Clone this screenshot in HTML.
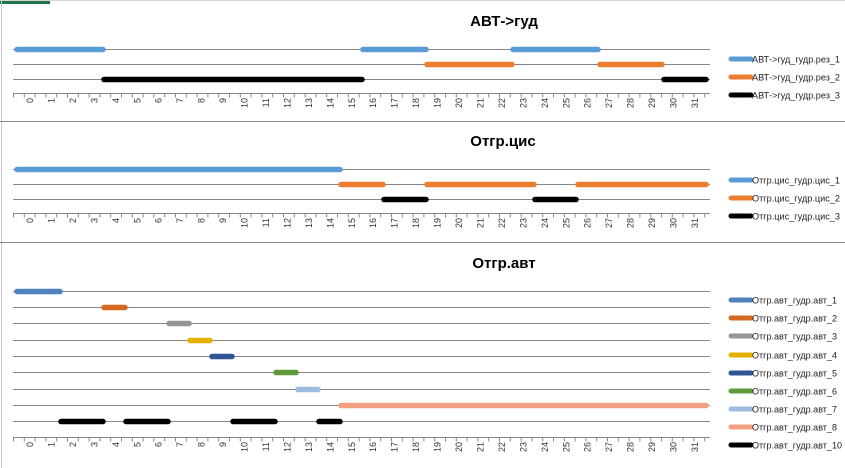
<!DOCTYPE html>
<html><head><meta charset="utf-8"><style>
html,body{margin:0;padding:0;background:#fff}
svg{display:block}
text{font-family:"Liberation Sans",sans-serif}
.t{font-size:9px;fill:#333}
.lg{font-size:9.5px;fill:#222}
.ti{font-size:15px;font-weight:bold;fill:#000}
</style></head><body>
<svg width="845" height="468" viewBox="0 0 845 468" xmlns="http://www.w3.org/2000/svg">
<rect width="845" height="468" fill="#fff"/>
<rect x="0" y="0" width="50" height="4" fill="#217346"/>
<line x1="0" y1="0.5" x2="845" y2="0.5" stroke="#d4d4d4"/>
<line x1="1.5" y1="0" x2="1.5" y2="468" stroke="#c8c8c8"/>
<line x1="0" y1="121.5" x2="845" y2="121.5" stroke="#8a8a8a"/>
<line x1="0" y1="242.5" x2="845" y2="242.5" stroke="#8a8a8a"/>

<defs>
<g id="labels">
<text class="t" text-anchor="end" transform="translate(33,0) rotate(-90)">0</text>
<text class="t" text-anchor="end" transform="translate(54.5,0) rotate(-90)">1</text>
<text class="t" text-anchor="end" transform="translate(75.9,0) rotate(-90)">2</text>
<text class="t" text-anchor="end" transform="translate(97.4,0) rotate(-90)">3</text>
<text class="t" text-anchor="end" transform="translate(118.8,0) rotate(-90)">4</text>
<text class="t" text-anchor="end" transform="translate(140.3,0) rotate(-90)">5</text>
<text class="t" text-anchor="end" transform="translate(161.7,0) rotate(-90)">6</text>
<text class="t" text-anchor="end" transform="translate(183.2,0) rotate(-90)">7</text>
<text class="t" text-anchor="end" transform="translate(204.6,0) rotate(-90)">8</text>
<text class="t" text-anchor="end" transform="translate(226.1,0) rotate(-90)">9</text>
<text class="t" text-anchor="end" transform="translate(247.5,0) rotate(-90)">10</text>
<text class="t" text-anchor="end" transform="translate(269,0) rotate(-90)">11</text>
<text class="t" text-anchor="end" transform="translate(290.4,0) rotate(-90)">12</text>
<text class="t" text-anchor="end" transform="translate(311.9,0) rotate(-90)">13</text>
<text class="t" text-anchor="end" transform="translate(333.3,0) rotate(-90)">14</text>
<text class="t" text-anchor="end" transform="translate(354.8,0) rotate(-90)">15</text>
<text class="t" text-anchor="end" transform="translate(376.2,0) rotate(-90)">16</text>
<text class="t" text-anchor="end" transform="translate(397.7,0) rotate(-90)">17</text>
<text class="t" text-anchor="end" transform="translate(419.1,0) rotate(-90)">18</text>
<text class="t" text-anchor="end" transform="translate(440.6,0) rotate(-90)">19</text>
<text class="t" text-anchor="end" transform="translate(462,0) rotate(-90)">20</text>
<text class="t" text-anchor="end" transform="translate(483.5,0) rotate(-90)">21</text>
<text class="t" text-anchor="end" transform="translate(504.9,0) rotate(-90)">22</text>
<text class="t" text-anchor="end" transform="translate(526.4,0) rotate(-90)">23</text>
<text class="t" text-anchor="end" transform="translate(547.8,0) rotate(-90)">24</text>
<text class="t" text-anchor="end" transform="translate(569.3,0) rotate(-90)">25</text>
<text class="t" text-anchor="end" transform="translate(590.7,0) rotate(-90)">26</text>
<text class="t" text-anchor="end" transform="translate(612.2,0) rotate(-90)">27</text>
<text class="t" text-anchor="end" transform="translate(633.6,0) rotate(-90)">28</text>
<text class="t" text-anchor="end" transform="translate(655.1,0) rotate(-90)">29</text>
<text class="t" text-anchor="end" transform="translate(676.5,0) rotate(-90)">30</text>
<text class="t" text-anchor="end" transform="translate(698,0) rotate(-90)">31</text>
</g>
<g id="axis">
<line x1="13" y1="0.5" x2="710" y2="0.5" stroke="#888"/>
<line x1="13" y1="2.5" x2="710" y2="2.5" stroke="#888" stroke-width="4" stroke-dasharray="1 9.8"/>
</g>
</defs>

<g stroke="#868686" stroke-width="1">
<line x1="13" y1="49.5" x2="710" y2="49.5"/><line x1="13" y1="64.5" x2="710" y2="64.5"/><line x1="13" y1="79.5" x2="710" y2="79.5"/>
<line x1="13" y1="169.5" x2="710" y2="169.5"/><line x1="13" y1="184.5" x2="710" y2="184.5"/><line x1="13" y1="199.5" x2="710" y2="199.5"/>
<line x1="13" y1="291.5" x2="710" y2="291.5"/><line x1="13" y1="307.5" x2="710" y2="307.5"/><line x1="13" y1="323.5" x2="710" y2="323.5"/>
<line x1="13" y1="340.5" x2="710" y2="340.5"/><line x1="13" y1="356.5" x2="710" y2="356.5"/><line x1="13" y1="372.5" x2="710" y2="372.5"/>
<line x1="13" y1="389.5" x2="710" y2="389.5"/><line x1="13" y1="405.5" x2="710" y2="405.5"/><line x1="13" y1="421.5" x2="710" y2="421.5"/>
</g>
<use href="#axis" y="93"/><use href="#axis" y="213"/><use href="#axis" y="437"/>
<use href="#labels" y="98"/><use href="#labels" y="218"/><use href="#labels" y="442"/>

<text class="ti" x="504" y="26" text-anchor="middle">АВТ-&gt;гуд</text>
<text class="ti" x="503" y="146" text-anchor="middle">Отгр.цис</text>
<text class="ti" x="504" y="268" text-anchor="middle">Отгр.авт</text>

<g stroke-width="5.5" stroke-linecap="round" fill="none">
<path stroke="#5b9bd5" d="M17 49.5H103M363 49.5H426M513 49.5H598"/>
<path stroke="#ed7d31" d="M427 64.5H512M600 64.5H662"/>
<path stroke="#000" d="M104 79.5H362M664 79.5H706"/>

<path stroke="#5b9bd5" d="M17 169.5H340"/>
<path stroke="#ed7d31" d="M341 184.5H383M427 184.5H534M578 184.5H706"/>
<path stroke="#000" d="M384 199.5H426M535 199.5H576"/>

<path stroke="#4f81bd" d="M17 291.5H60"/>
<path stroke="#d2691e" d="M104 307.5H125"/>
<path stroke="#969696" d="M169 323.5H189"/>
<path stroke="#e6b000" d="M190 340.5H210"/>
<path stroke="#2f5597" d="M212 356.5H232"/>
<path stroke="#5e9a3a" d="M276 372.5H296"/>
<path stroke="#9dbbe0" d="M298 389.5H318"/>
<path stroke="#f0a080" d="M341 405.5H706"/>
<path stroke="#000" d="M61 421.5H103M126 421.5H168M233 421.5H275M319 421.5H340"/>
</g>

<g stroke-width="5" stroke-linecap="round">
<line x1="731" y1="59" x2="751" y2="59" stroke="#5b9bd5"/>
<line x1="731" y1="77" x2="751" y2="77" stroke="#ed7d31"/>
<line x1="731" y1="95" x2="751" y2="95" stroke="#000"/>
<line x1="731" y1="180" x2="751" y2="180" stroke="#5b9bd5"/>
<line x1="731" y1="198" x2="751" y2="198" stroke="#ed7d31"/>
<line x1="731" y1="216" x2="751" y2="216" stroke="#000"/>
<line x1="731" y1="300" x2="751" y2="300" stroke="#4f81bd"/>
<line x1="731" y1="318" x2="751" y2="318" stroke="#d2691e"/>
<line x1="731" y1="336" x2="751" y2="336" stroke="#969696"/>
<line x1="731" y1="355" x2="751" y2="355" stroke="#e6b000"/>
<line x1="731" y1="373" x2="751" y2="373" stroke="#2f5597"/>
<line x1="731" y1="391" x2="751" y2="391" stroke="#5e9a3a"/>
<line x1="731" y1="409" x2="751" y2="409" stroke="#9dbbe0"/>
<line x1="731" y1="427" x2="751" y2="427" stroke="#f0a080"/>
<line x1="731" y1="445" x2="751" y2="445" stroke="#000"/>
</g>
<g>
<text class="lg" x="752" y="62.5" textLength="88" lengthAdjust="spacingAndGlyphs">АВТ-&gt;гуд_гудр.рез_1</text>
<text class="lg" x="752" y="80.5" textLength="88" lengthAdjust="spacingAndGlyphs">АВТ-&gt;гуд_гудр.рез_2</text>
<text class="lg" x="752" y="98.5" textLength="88" lengthAdjust="spacingAndGlyphs">АВТ-&gt;гуд_гудр.рез_3</text>
<text class="lg" x="752" y="183.5" textLength="88" lengthAdjust="spacingAndGlyphs">Отгр.цис_гудр.цис_1</text>
<text class="lg" x="752" y="201.5" textLength="88" lengthAdjust="spacingAndGlyphs">Отгр.цис_гудр.цис_2</text>
<text class="lg" x="752" y="219.5" textLength="88" lengthAdjust="spacingAndGlyphs">Отгр.цис_гудр.цис_3</text>
<text class="lg" x="752" y="303.5" textLength="85" lengthAdjust="spacingAndGlyphs">Отгр.авт_гудр.авт_1</text>
<text class="lg" x="752" y="321.5" textLength="85" lengthAdjust="spacingAndGlyphs">Отгр.авт_гудр.авт_2</text>
<text class="lg" x="752" y="339.5" textLength="85" lengthAdjust="spacingAndGlyphs">Отгр.авт_гудр.авт_3</text>
<text class="lg" x="752" y="358.5" textLength="85" lengthAdjust="spacingAndGlyphs">Отгр.авт_гудр.авт_4</text>
<text class="lg" x="752" y="376.5" textLength="85" lengthAdjust="spacingAndGlyphs">Отгр.авт_гудр.авт_5</text>
<text class="lg" x="752" y="394.5" textLength="85" lengthAdjust="spacingAndGlyphs">Отгр.авт_гудр.авт_6</text>
<text class="lg" x="752" y="412.5" textLength="85" lengthAdjust="spacingAndGlyphs">Отгр.авт_гудр.авт_7</text>
<text class="lg" x="752" y="430.5" textLength="85" lengthAdjust="spacingAndGlyphs">Отгр.авт_гудр.авт_8</text>
<text class="lg" x="752" y="448.5" textLength="90" lengthAdjust="spacingAndGlyphs">Отгр.авт_гудр.авт_10</text>
</g>
</svg>
</body></html>
